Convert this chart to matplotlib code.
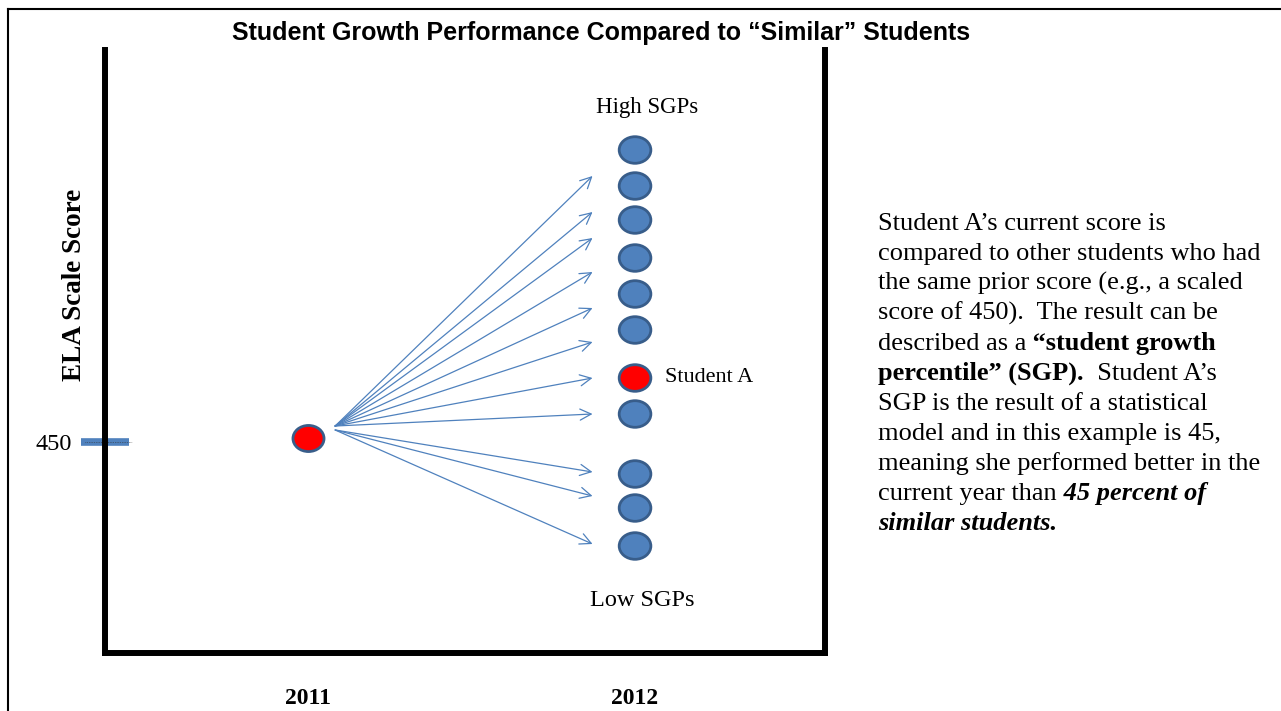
import matplotlib.pyplot as plt
from matplotlib.path import Path
from matplotlib.transforms import Affine2D
from matplotlib.lines import Line2D

# =============================================================================
# DATOS
# =============================================================================
years = [2011, 2012]
year_labels = ['2011', '2012']
prior_year = 2011
prior_tick = 450            # puntaje previo marcado en el eje
prior_dot = 452             # punto rojo del 2011
current_scores = [596, 578, 561, 542, 524, 506, 482, 464, 434, 417, 398]
student_a_score = 482
arrow_starts = [458, 458, 458, 458, 458, 458, 458, 458, 456, 456, 456]
arrow_targets = [583, 565, 552, 535, 517, 500, 482, 464, 435, 423, 399]

title = 'Student Growth Performance Compared to \u201cSimilar\u201d Students'
ylabel = 'ELA Scale Score'

# (texto, peso, estilo) por renglon
parrafo = [
    [('Student A\u2019s current score is', 'normal', 'normal')],
    [('compared to other students who had', 'normal', 'normal')],
    [('the same prior score (e.g., a scaled', 'normal', 'normal')],
    [('score of 450).  The result can be', 'normal', 'normal')],
    [('described as a', 'normal', 'normal'), (' \u201cstudent growth', 'bold', 'normal')],
    [('percentile\u201d (SGP).', 'bold', 'normal'), ('  Student A\u2019s', 'normal', 'normal')],
    [('SGP is the result of a statistical', 'normal', 'normal')],
    [('model and in this example is 45,', 'normal', 'normal')],
    [('meaning she performed better in the', 'normal', 'normal')],
    [('current year than', 'normal', 'normal'), (' 45 percent of', 'bold', 'italic')],
    [('similar students.', 'bold', 'italic')],
]

AZUL = '#4F81BD'
BORDE = '#385D8A'
SERIF = 'Liberation Serif'

W, H = 1281, 711
fig = plt.figure(figsize=(W / 100, H / 100), dpi=100)

# ejes: caja en L con lado derecho
ax = fig.add_axes([105 / W, 1 - 653 / H, 720 / W, 603 / H])
ax.set_xlim(2010.379, 2012.581)
ax.set_ylim(344.5, 646)
ax.spines['top'].set_visible(False)
for lado in ['left', 'right', 'bottom']:
    ax.spines[lado].set_linewidth(4.3)

# elipse como marcador
elipse = Path.unit_circle().transformed(Affine2D().scale(1, 0.84))

# flechas desde el alumno hacia los alumnos "similares"
for y0, y1 in zip(arrow_starts, arrow_targets):
    ax.annotate('', xy=(years[1] - 0.13, y1), xytext=(prior_year + 0.083, y0),
                arrowprops=dict(arrowstyle='->', color=AZUL, lw=0.9,
                                mutation_scale=20, shrinkA=0, shrinkB=0))

colores = ['red' if s == student_a_score else AZUL for s in current_scores]
ax.scatter([years[1]] * len(current_scores), current_scores, s=520, marker=elipse,
           c=colores, edgecolors=BORDE, linewidths=2, zorder=3)
ax.scatter([prior_year], [prior_dot], s=500, marker=elipse, c='red',
           edgecolors=BORDE, linewidths=2, zorder=3)

# textos dentro del grafico
ax.text(years[1] + 0.037, 617.5, 'High SGPs', ha='center', va='center',
        fontsize=16.5, family=SERIF)
ax.text(years[1] + 0.022, 371, 'Low SGPs', ha='center', va='center',
        fontsize=17.5, family=SERIF)
ax.text(years[1] + 0.092, student_a_score, 'Student A', ha='left', va='center',
        fontsize=16, family=SERIF)

# eje y: marca del 450
ax.set_yticks([prior_tick])
ax.set_yticklabels([str(prior_tick)], fontsize=17.5, family=SERIF)
ax.tick_params(axis='y', direction='inout', length=34, width=5.5, color=AZUL, pad=7)
ax.axhline(prior_tick, xmin=-0.028, xmax=0.038, clip_on=False, color='#333333',
           ls=(0, (1, 1.5)), lw=0.5)
ax.set_ylabel(ylabel, fontsize=19.5, fontweight='bold', family=SERIF, va='center')
ax.yaxis.set_label_coords(-0.0417, 0.61)

# eje x: anios
ax.set_xticks(years)
ax.set_xticklabels(year_labels, fontsize=17, fontweight='bold', family=SERIF)
ax.tick_params(axis='x', length=0, pad=25)

# titulo
fig.text(601 / W, 1 - 33 / H, title, ha='center', va='center', fontsize=18,
         fontweight='bold', family='Liberation Sans')

# marco exterior
fig.add_artist(Line2D([8 / W, 1], [1 - 9 / H, 1 - 9 / H], color='k', lw=1.5))
fig.add_artist(Line2D([8 / W, 8 / W], [0, 1 - 9 / H], color='k', lw=1.5))

# parrafo de la derecha, armado por partes
r = fig.canvas.get_renderer()
y = 230
for renglon in parrafo:
    x = 878 / W
    for s, peso, estilo in renglon:
        t = fig.text(x, 1 - y / H, s, ha='left', va='baseline', fontsize=19,
                     fontweight=peso, fontstyle=estilo, family=SERIF)
        x += t.get_window_extent(r).width / W
    y += 30

fig.savefig('out.png', dpi=100)
